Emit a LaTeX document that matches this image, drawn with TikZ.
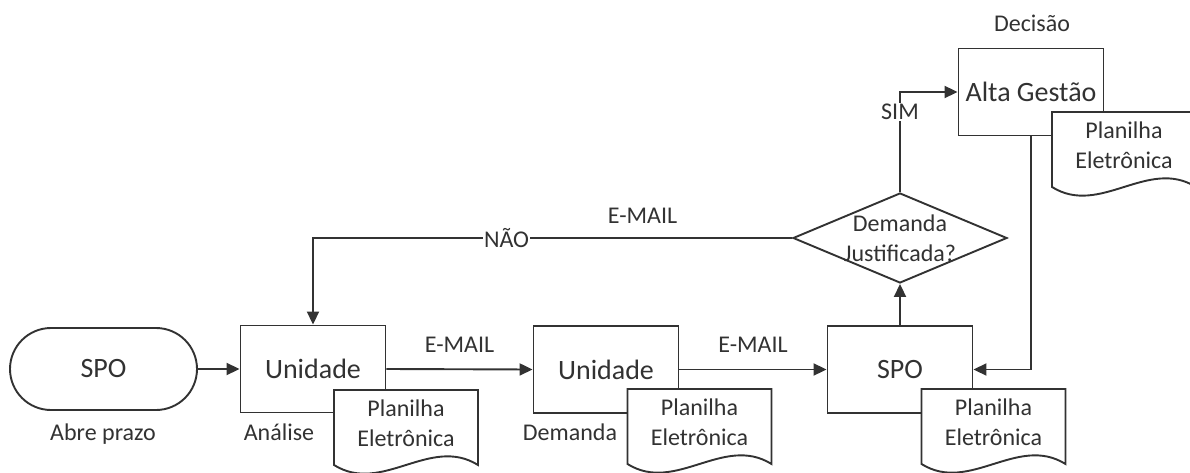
\documentclass[tikz,border=0pt]{standalone}
\usepackage{fontspec}
\setmainfont{Carlito}
\usetikzlibrary{arrows.meta,shapes.geometric}
\definecolor{ink}{RGB}{50,50,50}
\begin{document}
\begin{tikzpicture}[x=1pt,y=-1pt,
  color=ink, line width=1.9pt,
  every node/.style={font=\fontsize{24}{30}\selectfont},
  box/.style={draw, fill=white, minimum width=145pt, minimum height=87pt,
    inner sep=0pt, font=\fontsize{28}{34}\selectfont},
  flow/.style={-{Triangle[length=13pt,width=12pt]}},
  lbl/.style={inner sep=1pt},
  onl/.style={fill=white, inner sep=1pt},
  planilha/.pic={
    \draw[fill=white] (-72,0) -- (72,0) -- (72,75)
      .. controls (24,45) and (-24,105) .. (-72,75) -- cycle;
    \node[align=center, inner sep=0pt] (-t) at (0,33) {Planilha\\Eletrônica};
  }]
\useasboundingbox (0,0) rectangle (1190,473);

% process steps
\node[draw, fill=white, rounded corners=41pt, minimum width=187pt,
  minimum height=82pt, inner sep=0pt, font=\fontsize{28}{34}\selectfont]
  (spo1) at (103.5,369) {SPO};
\node[box] (u1) at (313,369) {Unidade};
\node[box] (u2) at (606,369.5) {Unidade};
\node[box] (spo2) at (900,369.5) {SPO};
\node[box] (alta) at (1031,92) {Alta Gestão};
\node[draw, fill=white, diamond, minimum width=214pt, minimum height=90pt,
  inner sep=0pt,
  label={[align=center, inner sep=0pt, name=diatxt]center:Demanda\\Justificada?}]
  (dia) at (900,238) {};

% captions
\node[lbl, anchor=base] (c1) at (103,440) {Abre prazo};
\node[lbl, anchor=base] (c2) at (279,440) {Análise};
\node[lbl, anchor=base] (c3) at (570,440) {Demanda};
\node[lbl, anchor=base] (c4) at (1032,32) {Decisão};

% connectors
\draw[flow] (spo1.east) -- (u1.west);
\draw[flow] (u1.east) -- node[lbl, above=15pt] (m1) {E-MAIL} (u2.west);
\draw[flow] (u2.east) -- node[lbl, above=15pt] (m2) {E-MAIL} (spo2.west);
\draw[flow] (spo2.north) -- (dia.south);
\draw[flow] (dia.north) |- node[onl, pos=0.4] (sim) {SIM} (alta.west);
\draw[flow] (alta.south) |- (spo2.east);
\draw[flow] (dia.west) -| node[onl, pos=0.298] (nao) {NÃO}
  node[lbl, pos=0.156, above=13pt] (m3) {E-MAIL} (u1.north);

% spreadsheets
\pic (d1) at (406,390) {planilha};
\pic (d2) at (699.5,389) {planilha};
\pic (d3) at (993.5,389) {planilha};
\pic (d4) at (1124,112) {planilha};
\end{tikzpicture}
\end{document}
